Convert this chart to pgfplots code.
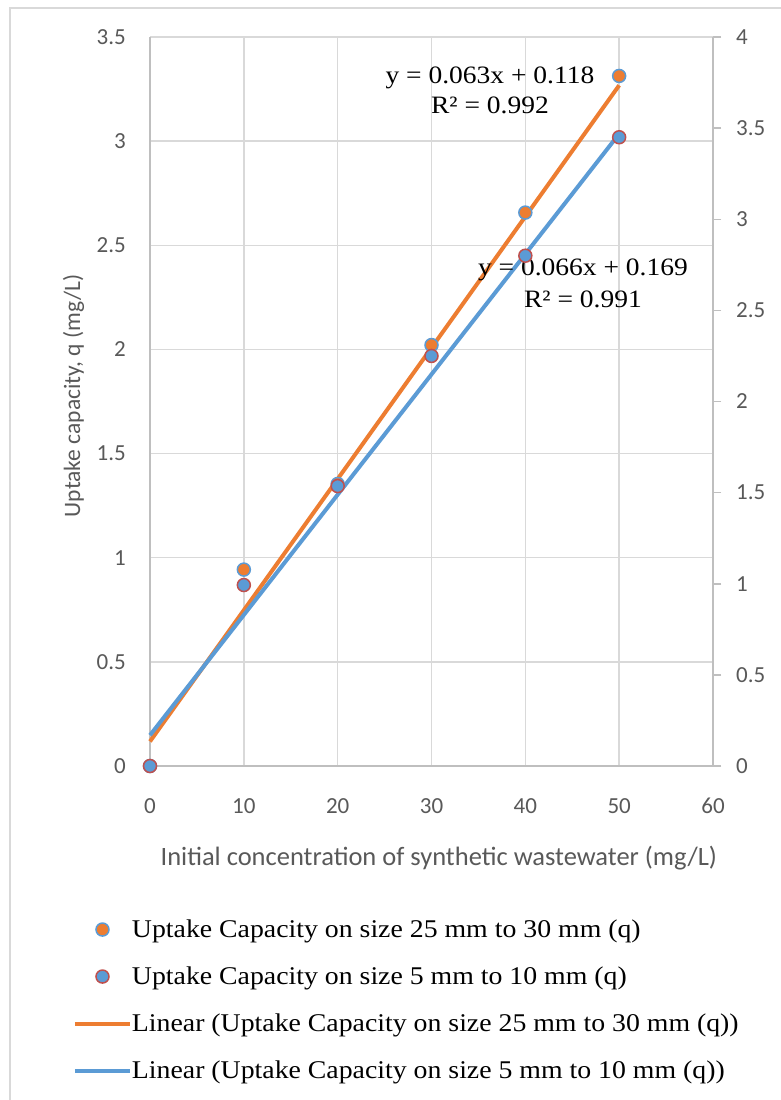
\documentclass[border=0pt]{standalone}
\usepackage{pgfplots}
\pgfplotsset{compat=1.18}
\usepackage{fontspec}
\setmainfont{Carlito}
\newfontfamily\legfont[FakeStretch=1.09]{Liberation Serif}
\newfontfamily\eqfont[FakeStretch=1.1]{Liberation Serif}
\definecolor{cOrange}{HTML}{ED7D31}
\definecolor{cBlue}{HTML}{5B9BD5}
\definecolor{cRed}{HTML}{C0504D}
\definecolor{cGrid}{HTML}{D9D9D9}
\definecolor{cAxis}{HTML}{BFBFBF}
\definecolor{cText}{HTML}{595959}
\pgfplotsset{
  markleg/.style={legend image code/.code={\path[draw=none,fill=none] (0bp,0bp) -- (55bp,0bp);\draw[##1] plot coordinates {(27.5bp,0bp)};}},
  lineleg/.style={legend image code/.code={\draw[##1] (0bp,0bp) -- (55bp,0bp);}},
}
\begin{document}
\begin{tikzpicture}
\useasboundingbox (0,0) rectangle (781bp,-1100bp);
\fill[white] (0,0) rectangle (781bp,-1100bp);
\draw[cGrid, line width=2bp] (10bp,-1100bp) -- (10bp,-8bp) -- (781bp,-8bp);

\begin{axis}[
  at={(150bp,-766bp)}, anchor=south west,
  scale only axis, width=563bp, height=729bp,
  xmin=0, xmax=60, ymin=0, ymax=3.5,
  xtick={0,10,20,30,40,50,60},
  ytick={0,0.5,1,1.5,2,2.5,3,3.5},
  axis x line*=bottom, axis y line*=left,
  axis line style={cAxis, line width=1.5bp, -},
  grid=major, grid style={cGrid, line width=1.5bp},
  major tick length=0pt,
  tick label style={font=\fontsize{23bp}{27bp}\selectfont, text=cText},
  /pgf/number format/assume math mode=true,
  yticklabel style={anchor=east, inner sep=0pt, xshift=-24bp},
  xticklabel style={anchor=base, inner sep=0pt, yshift=-47bp},
  xlabel={Initial concentration of synthetic wastewater (mg/L)},
  xlabel style={at={(axis description cs:0.513,-0.1358)}, anchor=base, inner sep=0pt,
    font=\fontsize{26.5bp}{30bp}\selectfont, text=cText},
  clip=false,
]
\addplot[only marks, mark=*, mark size=6.5bp,
  mark options={fill=cOrange, draw=cBlue, line width=1.5bp}]
  coordinates {(0,0) (10,0.943) (20,1.354) (30,2.021) (40,2.657) (50,3.313)};
\addplot[cOrange, line width=4bp] coordinates {(0,0.118) (50,3.268)};
\node[rotate=90, anchor=base, inner sep=0pt, font=\fontsize{23.5bp}{28bp}\selectfont, text=cText]
  at (rel axis cs:-0.124,0.5075) {Uptake capacity, q (mg/L)};
\end{axis}

\begin{axis}[
  at={(150bp,-766bp)}, anchor=south west,
  scale only axis, width=563bp, height=729bp,
  xmin=0, xmax=60, ymin=0, ymax=4,
  ytick={0,0.5,1,1.5,2,2.5,3,3.5,4},
  axis x line=none, axis y line*=right,
  axis line style={cAxis, line width=1.5bp, -},
  tick align=outside, major tick length=8bp,
  tick style={cAxis, line width=1.5bp},
  tick label style={font=\fontsize{23bp}{27bp}\selectfont, text=cText},
  /pgf/number format/assume math mode=true,
  yticklabel style={anchor=west, inner sep=0pt, xshift=15bp},
  clip=false,
  legend cell align=left,
  legend style={draw=none, fill=none, inner sep=0pt, outer sep=0pt,
    at={(axis description cs:-0.1368,-0.2058)}, anchor=north west,
    row sep=20bp, column sep=0bp,
    font=\legfont\fontsize{25.5bp}{30bp}\selectfont,
    nodes={inner sep=0pt, text height=21bp, text depth=6bp, text=black}},
]
\addlegendimage{only marks, mark=*, mark size=6.5bp,
  mark options={fill=cOrange, draw=cBlue, line width=1.5bp}, markleg}
\addlegendentry{Uptake Capacity on size 25 mm to 30 mm (q)}
\addplot[only marks, mark=*, mark size=6.5bp,
  mark options={fill=cBlue, draw=cRed, line width=1.5bp}, markleg]
  coordinates {(0,0) (10,0.993) (20,1.536) (30,2.25) (40,2.80) (50,3.45)};
\addlegendentry{Uptake Capacity on size 5 mm to 10 mm (q)}
\addlegendimage{cOrange, line width=4bp, lineleg}
\addlegendentry{Linear (Uptake Capacity on size 25 mm to 30 mm (q))}
\addplot[cBlue, line width=4bp, lineleg]
  coordinates {(0,0.169) (50,3.469)};
\addlegendentry{Linear (Uptake Capacity on size 5 mm to 10 mm (q))}

\node[anchor=base, inner sep=0pt, font=\eqfont\fontsize{25bp}{30bp}\selectfont]
  at (rel axis cs:0.6039,0.9369) {y = 0.063x + 0.118};
\node[anchor=base, inner sep=0pt, font=\eqfont\fontsize{25bp}{30bp}\selectfont]
  at (rel axis cs:0.6039,0.8957) {R² = 0.992};
\node[anchor=base, inner sep=0pt, font=\eqfont\fontsize{25bp}{30bp}\selectfont]
  at (rel axis cs:0.7691,0.6722) {y = 0.066x + 0.169};
\node[anchor=base, inner sep=0pt, font=\eqfont\fontsize{25bp}{30bp}\selectfont]
  at (rel axis cs:0.7691,0.6296) {R² = 0.991};
\end{axis}
\end{tikzpicture}
\end{document}
